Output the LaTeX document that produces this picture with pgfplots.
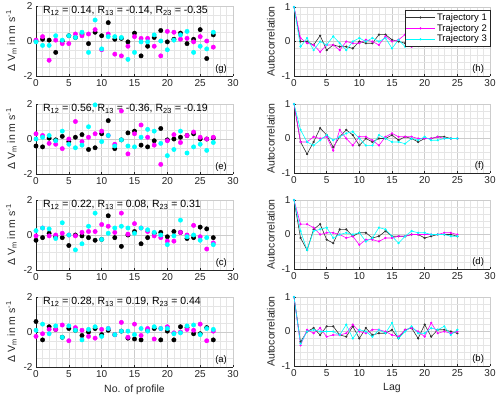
\documentclass[border=0pt]{standalone}
\usepackage{pgfplots}
\pgfplotsset{compat=1.18}
\usepackage{pgfplotstable}
\usepackage{fontspec}
\setmainfont{Liberation Sans}
\definecolor{axc}{rgb}{0.15,0.15,0.15}
\definecolor{tr1}{rgb}{0.2,0.2,0.2}
\definecolor{mg}{rgb}{1,0,1}
\definecolor{cy}{rgb}{0,1,1}

\pgfplotstableread{
x k m c
0 0.0 0.05 -0.05
1 0.1 0.25 -0.25
2 0.05 -1.1 -0.25
3 -0.65 0.05 0.3
4 0.0 -0.15 0.05
5 0.3 -0.15 0.3
6 0.2 0.4 0.2
7 0.4 0.3 0.5
8 -0.15 0.4 -0.65
9 0.5 0.65 1.2
10 0.3 -0.5 -0.45
11 1.05 0.4 0.25
12 0.1 -0.75 0.25
13 0.15 -0.85 0.2
14 -0.05 -0.3 -1.05
15 0.45 0.25 -0.65
16 -0.85 0.15 -0.05
17 -0.3 0.15 -0.05
18 0.2 -0.3 0.35
19 0.6 -0.85 0.0
20 -0.05 0.55 -0.5
21 0.1 0.5 0.05
22 0.45 0.1 0.35
23 -0.15 0.15 0.55
24 0.1 -0.05 -0.65
25 0.65 0.25 -0.3
26 -1.0 0.0 -0.45
27 0.35 -0.35 0.5
}\dg
\pgfplotstableread{
x k m c
0 -0.4 0.3 0.0
1 -0.45 0.2 0.1
2 0.05 -0.25 0.2
3 -0.05 -0.3 -0.1
4 0.15 -0.55 0.45
5 -0.15 0.0 -0.3
6 0.1 1.0 -0.5
7 0.25 -0.15 -0.35
8 -0.6 0.1 0.7
9 -0.5 0.3 1.95
10 0.3 0.45 -0.15
11 1.05 0.2 0.2
12 -0.55 -0.3 -0.4
13 -0.05 1.6 -0.05
14 0.35 -0.85 -0.4
15 0.45 0.3 -0.45
16 -0.35 0.8 0.1
17 -0.45 0.1 0.55
18 -0.1 -0.35 0.45
19 0.6 -1.45 -0.25
20 -0.05 -0.1 -0.95
21 0.0 0.25 -0.6
22 0.1 -0.2 0.45
23 0.2 0.2 -0.8
24 0.3 0.4 -0.45
25 0.0 0.1 -0.3
26 0.0 0.0 -0.65
27 0.05 0.1 -0.2
}\de
\pgfplotstableread{
x k m c
0 -0.3 -0.05 0.25
1 -0.15 0.4 0.4
2 0.1 -0.05 0.35
3 -0.1 0.0 -0.2
4 -0.15 0.1 0.7
5 -0.6 0.0 0.0
6 0.0 -0.05 -0.85
7 -0.05 0.15 -0.5
8 -0.15 0.2 0.5
9 -0.3 0.2 1.25
10 -0.25 0.6 -0.25
11 1.1 0.5 0.1
12 -0.15 0.15 0.4
13 -0.65 1.25 0.5
14 0.0 0.05 0.4
15 0.2 0.65 0.1
16 -0.5 0.4 0.4
17 -0.15 0.2 0.3
18 0.1 -0.05 0.15
19 0.15 -0.15 0.0
20 -0.1 -0.35 -0.55
21 0.2 -0.35 -0.05
22 0.15 0.15 0.85
23 -0.2 0.0 -0.1
24 -0.15 0.55 0.0
25 0.45 -0.1 -0.3
26 0.35 -0.8 -0.15
27 -0.15 -0.45 -0.55
}\dc
\pgfplotstableread{
x k m c
0 0.6 -0.25 0.1
1 -0.45 -0.1 0.45
2 0.3 0.15 -0.1
3 0.15 0.15 0.35
4 -0.3 0.4 -0.3
5 0.2 -0.5 0.35
6 0.1 0.25 0.1
7 -0.2 0.1 -0.45
8 0.0 -0.25 0.15
9 0.2 -0.35 0.3
10 -0.15 0.15 -0.25
11 0.1 0.2 0.2
12 -0.15 -0.15 -0.15
13 0.05 0.55 0.05
14 -0.35 -0.3 0.05
15 -0.4 0.45 -0.15
16 -0.45 -0.2 0.2
17 0.1 0.2 0.05
18 0.2 -0.4 0.3
19 -0.45 0.2 0.2
20 0.05 0.3 0.2
21 -0.45 -0.05 -0.1
22 0.3 0.0 -0.05
23 0.25 0.15 0.35
24 -0.1 0.1 0.4
25 -0.1 0.45 -0.15
26 0.25 -0.5 0.2
27 -0.45 0.05 0.15
}\da

\pgfplotstableread{
x k m c
0 1 1 1
1 0.0 0.1 -0.15
2 0.0 -0.05 0.1
3 -0.1 -0.1 -0.25
4 0.17 -0.3 0.0
5 -0.25 -0.1 -0.1
6 -0.1 -0.1 0.15
7 -0.15 -0.25 -0.05
8 -0.15 0.0 -0.25
9 -0.2 -0.05 0.0
10 0.0 -0.05 0.1
11 -0.05 0.05 0.0
12 -0.05 0.0 0.1
13 0.2 -0.1 0.0
14 0.2 0.15 0.1
15 0.05 0.0 -0.2
16 0.0 0.05 0.05
17 -0.05 0.2 -0.15
18 0.0 -0.15 0.05
19 -0.1 -0.1 0.1
20 0.05 -0.05 0.1
21 -0.05 -0.05 -0.1
22 -0.1 -0.05 -0.05
23 0.0 0.0 -0.1
24 0.0 0.05 0.0
25 0.0 0.05 0.0
}\ah
\pgfplotstableread{
x k m c
0 1 1 1
1 -0.1 -0.1 0.25
2 -0.45 -0.1 -0.1
3 -0.1 0.05 -0.2
4 0.3 0.0 -0.05
5 0.1 0.05 0.1
6 -0.25 -0.35 -0.05
7 0.05 0.25 0.05
8 0.25 0.0 0.15
9 0.1 -0.2 0.2
10 -0.2 0.05 0.0
11 0.0 0.05 -0.2
12 -0.1 -0.05 -0.2
13 0.0 -0.2 0.1
14 0.0 0.05 0.0
15 0.1 0.15 -0.1
16 -0.05 0.05 -0.1
17 0.05 0.05 -0.15
18 0.0 0.05 0.0
19 -0.1 0.0 -0.05
20 0.0 0.0 0.05
21 0.0 0.0 -0.05
22 0.05 0.05 -0.05
23 0.05 0.0 0.0
24 0.0 0.0 0.0
25 0.0 0.0 0.0
}\af
\pgfplotstableread{
x k m c
0 1 1 1
1 -0.1 0.3 0.1
2 -0.45 0.3 -0.45
3 0.15 0.2 0.1
4 0.3 0.0 0.15
5 -0.15 0.05 0.2
6 -0.25 0.05 -0.1
7 0.15 0.0 0.0
8 0.15 -0.1 0.05
9 -0.05 -0.05 0.0
10 0.05 -0.3 0.05
11 0.05 -0.15 -0.2
12 -0.1 -0.15 -0.1
13 -0.05 -0.2 0.2
14 0.1 -0.1 0.15
15 -0.05 -0.1 -0.05
16 -0.05 -0.05 -0.25
17 -0.05 -0.05 -0.05
18 0.0 0.0 0.1
19 0.0 0.0 0.05
20 -0.1 0.0 0.05
21 -0.05 0.0 0.0
22 0.0 0.0 0.0
23 0.0 0.05 0.0
24 0.0 0.05 -0.05
25 -0.05 0.0 -0.05
}\ad
\pgfplotstableread{
x k m c
0 1 1 1
1 -0.3 -0.4 -0.35
2 0.0 0.05 0.0
3 0.1 -0.05 0.05
4 -0.1 0.1 0.0
5 0.15 -0.15 0.0
6 0.15 -0.1 0.0
7 -0.1 -0.1 -0.1
8 -0.15 -0.05 0.2
9 0.15 0.2 -0.2
10 -0.2 0.0 0.05
11 0.1 -0.05 0.0
12 -0.1 0.05 -0.15
13 -0.05 0.05 0.05
14 -0.05 0.0 -0.05
15 0.05 -0.1 0.25
16 -0.2 -0.15 -0.2
17 0.05 0.05 0.0
18 0.1 0.1 0.15
19 -0.2 0.0 -0.05
20 0.2 -0.15 -0.05
21 -0.15 0.25 0.1
22 0.05 -0.05 0.05
23 0.05 0.0 0.15
24 0.0 -0.05 -0.1
25 -0.05 0.0 0.05
}\ab

\pgfplotsset{
 base/.style={scale only axis, xmin=0, xmax=30, xtick={0,5,...,30},
  minor x tick num=4, grid=both,
  major grid style={black!20, line width=0.35pt},
  minor grid style={black!10, line width=0.3pt},
  axis x line*=bottom, axis y line*=left,
  axis line style={axc, line width=0.5pt, -},
  tick style={axc, line width=0.5pt}, major tick length=2pt, minor tick length=0pt,
  tick align=inside,
  tick label style={font=\fontsize{10}{12}\selectfont, text=axc},
  /pgf/number format/assume math mode=true,
  label style={font=\fontsize{10.5}{12}\selectfont, text=axc},
  clip=false},
 lft/.style={base, width=197pt, height=70pt, ymin=-2, ymax=2, ytick={-2,0,2},
  minor y tick num=3, ylabel={Δ V\textsubscript{m} in m s\textsuperscript{-1}}},
 rgt/.style={base, width=196pt, height=69pt, ymin=-1, ymax=1, ytick={-1,0,1},
  minor y tick num=4, ylabel={Autocorrelation}},
 sc/.style={only marks, mark=*, mark size=2.2pt, mark options={draw=none}},
 ln/.style={mark=*, mark size=0.8pt, line width=0.6pt},
}
\newcommand{\rtxt}[3]{\node[anchor=west, font=\fontsize{10.5}{12}\selectfont, text=black, inner sep=0pt] at (rel axis cs:0.035,0.93) {R\textsubscript{12} = #1, R\textsubscript{13} = #2, R\textsubscript{23} = #3};}
\newcommand{\plab}[1]{\node[anchor=south east, font=\fontsize{9.5}{11}\selectfont, text=black, inner sep=0pt] at (rel axis cs:0.97,0.04) {(#1)};}

\begin{document}
\begin{tikzpicture}
\useasboundingbox (0pt,0pt) rectangle (500pt,-397pt);
% left column
\begin{axis}[lft, at={(36pt,-6pt)}, anchor=north west]
\addplot[sc, black] table[x=x,y=k] \dg;
\addplot[sc, mg] table[x=x,y=m] \dg;
\addplot[sc, cy] table[x=x,y=c] \dg;
\rtxt{0.14}{-0.14}{-0.35}\plab{g}
\end{axis}
\begin{axis}[lft, at={(36pt,-104pt)}, anchor=north west]
\addplot[sc, black] table[x=x,y=k] \de;
\addplot[sc, mg] table[x=x,y=m] \de;
\addplot[sc, cy] table[x=x,y=c] \de;
\rtxt{0.56}{-0.36}{-0.19}\plab{e}
\end{axis}
\begin{axis}[lft, at={(36pt,-200pt)}, anchor=north west]
\addplot[sc, black] table[x=x,y=k] \dc;
\addplot[sc, mg] table[x=x,y=m] \dc;
\addplot[sc, cy] table[x=x,y=c] \dc;
\rtxt{0.22}{0.08}{0.31}\plab{c}
\end{axis}
\begin{axis}[lft, at={(36pt,-297pt)}, anchor=north west, xlabel={No. of profile}]
\addplot[sc, black] table[x=x,y=k] \da;
\addplot[sc, mg] table[x=x,y=m] \da;
\addplot[sc, cy] table[x=x,y=c] \da;
\rtxt{0.28}{0.19}{0.44}\plab{a}
\end{axis}
% right column
\begin{axis}[rgt, at={(294pt,-7pt)}, anchor=north west,
  legend style={at={(rel axis cs:1,0.955)}, anchor=north east, draw=axc, fill=white,
   font=\fontsize{9.5}{11}\selectfont, inner sep=1pt, row sep=-1.5pt, line width=0.4pt},
  legend cell align=left,
  legend image code/.code={\draw[mark repeat=2, mark phase=2] plot coordinates {(0cm,0cm) (0.5cm,0cm) (1cm,0cm)};}]
\addplot[ln, tr1] table[x=x,y=k] \ah;
\addplot[ln, mg] table[x=x,y=m] \ah;
\addplot[ln, cy] table[x=x,y=c] \ah;
\legend{Trajectory 1, Trajectory 2, Trajectory 3}
\plab{h}
\end{axis}
\begin{axis}[rgt, at={(294pt,-104pt)}, anchor=north west]
\addplot[ln, tr1] table[x=x,y=k] \af;
\addplot[ln, mg] table[x=x,y=m] \af;
\addplot[ln, cy] table[x=x,y=c] \af;
\plab{f}
\end{axis}
\begin{axis}[rgt, at={(294pt,-200pt)}, anchor=north west]
\addplot[ln, tr1] table[x=x,y=k] \ad;
\addplot[ln, mg] table[x=x,y=m] \ad;
\addplot[ln, cy] table[x=x,y=c] \ad;
\plab{d}
\end{axis}
\begin{axis}[rgt, at={(294pt,-297pt)}, anchor=north west, xlabel={Lag}]
\addplot[ln, tr1] table[x=x,y=k] \ab;
\addplot[ln, mg] table[x=x,y=m] \ab;
\addplot[ln, cy] table[x=x,y=c] \ab;
\plab{b}
\end{axis}
\end{tikzpicture}
\end{document}
